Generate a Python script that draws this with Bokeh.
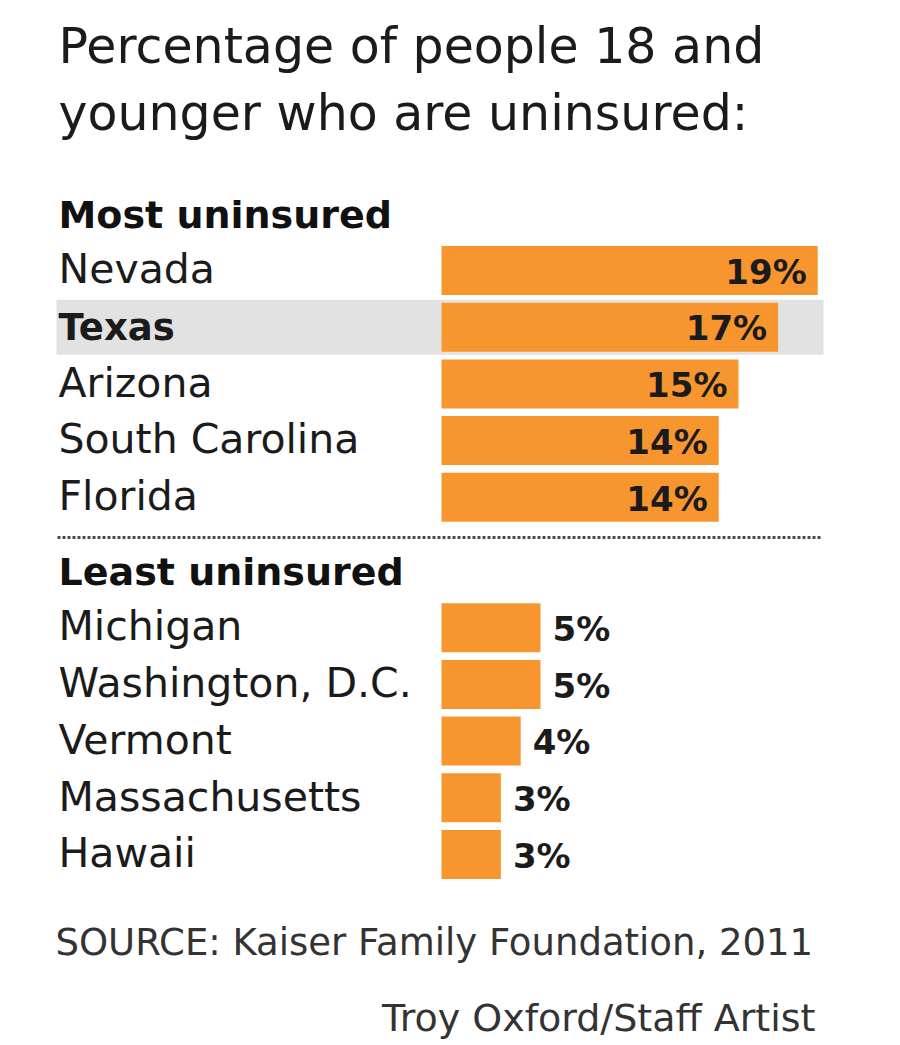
from bokeh.plotting import figure
from bokeh.models import Range1d
from bokeh.core.properties import value
from bokeh.embed import file_html
from bokeh.resources import INLINE

# ---- data ----
title_lines = ["Percentage of people 18 and", "younger who are uninsured:"]
group_titles = ["Most uninsured", "Least uninsured"]
most_states = ["Nevada", "Texas", "Arizona", "South Carolina", "Florida"]
most_values = [19, 17, 15, 14, 14]
least_states = ["Michigan", "Washington, D.C.", "Vermont", "Massachusetts", "Hawaii"]
least_values = [5, 5, 4, 3, 3]
highlight_state = "Texas"
source_note = "SOURCE: Kaiser Family Foundation, 2011"
credit = "Troy Oxford/Staff Artist"

# ---- layout constants ----
W, H = 884, 1042
X0 = 441.0      # px where 0% sits
SX = 19.8       # px per percent
ROW0 = 270.0    # px of first row centre
PITCH = 56.7    # px per row
LEAST_OFFSET = 6.30
BASE_K = 0.36   # empirical baseline correction (fraction of font size)

FONT = value("DejaVu Sans")
ORANGE = "#F7962F"
INK = "#1b1b1b"


def cx(px):
    return (px - X0) / SX


def cy(py):
    return (py - ROW0) / PITCH


def base(py, fs):
    # y value for a text whose alphabetic baseline should sit at py
    return cy(py - BASE_K * fs)


p = figure(width=W, height=H, x_range=Range1d(cx(0), cx(W)),
           y_range=Range1d(cy(H), cy(0)), output_backend="svg",
           toolbar_location=None, min_border=0, outline_line_color=None,
           background_fill_color="white", border_fill_color="white")
p.axis.visible = False
p.grid.visible = False

most_rows = list(range(len(most_states)))
least_rows = [LEAST_OFFSET + i for i in range(len(least_states))]

# highlight band
hi = most_states.index(highlight_state)
band_half = 27.5 / PITCH
p.quad(left=[cx(56)], right=[cx(823)], top=[most_rows[hi] - band_half],
       bottom=[most_rows[hi] + band_half], fill_color="#E2E2E2", line_color=None)

bar_h = 49 / PITCH
p.hbar(y=most_rows, left=0, right=most_values, height=bar_h,
       fill_color=ORANGE, line_color=None)
p.hbar(y=least_rows, left=0, right=least_values, height=bar_h,
       fill_color=ORANGE, line_color=None)

VAL_FS = 34
NAME_FS = 41
HI_FS = 37


def row_base(r, fs):
    return r + (13.5 - BASE_K * fs) / PITCH


# value labels
p.text(x=[v - 11 / SX for v in most_values], y=[row_base(r, VAL_FS) for r in most_rows],
       text=[f"{v}%" for v in most_values], text_font=FONT, text_font_style="bold",
       text_font_size=f"{VAL_FS}px", text_align="right", text_baseline="alphabetic",
       text_color=INK)
p.text(x=[v + 12 / SX for v in least_values], y=[row_base(r, VAL_FS) for r in least_rows],
       text=[f"{v}%" for v in least_values], text_font=FONT, text_font_style="bold",
       text_font_size=f"{VAL_FS}px", text_align="left", text_baseline="alphabetic",
       text_color=INK)

# state labels
for rows, states in ((most_rows, most_states), (least_rows, least_states)):
    for r, s in zip(rows, states):
        is_hi = s == highlight_state
        fs = HI_FS if is_hi else NAME_FS
        p.text(x=[cx(58)], y=[row_base(r, fs)], text=[s], text_font=FONT,
               text_font_size=f"{fs}px", text_align="left", text_baseline="alphabetic",
               text_color=INK, text_font_style="bold" if is_hi else "normal")

# group headings
for t, yb in zip(group_titles, (228, 585)):
    p.text(x=[cx(58)], y=[base(yb, 38)], text=[t], text_font=FONT, text_font_style="bold",
           text_font_size="38px", text_align="left", text_baseline="alphabetic",
           text_color="#111111")

# dotted separator
p.line(x=[cx(57), cx(822)], y=[cy(537), cy(537)], line_color="#4a4a4a",
       line_width=3, line_dash="3 2")

# title
for t, yb in zip(title_lines, (64, 131)):
    p.text(x=[cx(58)], y=[base(yb, 49)], text=[t], text_font=FONT, text_font_size="49px",
           text_align="left", text_baseline="alphabetic", text_color=INK)

# source and credit
p.text(x=[cx(55)], y=[base(955, 37)], text=[source_note], text_font=FONT,
       text_font_size="37px", text_align="left", text_baseline="alphabetic",
       text_color="#333333")
p.text(x=[cx(815)], y=[base(1031, 38)], text=[credit], text_font=FONT,
       text_font_size="38px", text_align="right", text_baseline="alphabetic",
       text_color="#333333")

open("out.html", "w").write(file_html(p, INLINE))
